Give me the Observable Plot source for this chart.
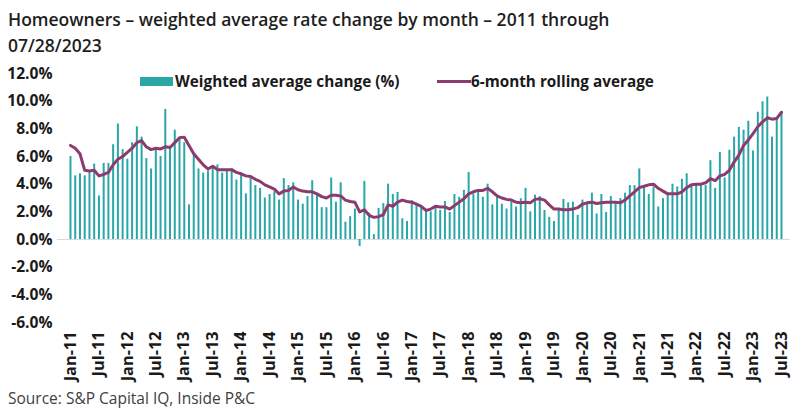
<!DOCTYPE html>
<html>
<head>
<meta charset="utf-8">
<script src="https://cdn.jsdelivr.net/npm/d3@7"></script>
<script src="https://cdn.jsdelivr.net/npm/@observablehq/plot@0.6"></script>
<style>
  html, body { margin: 0; padding: 0; background: #fff; }
  body { width: 800px; height: 411px; position: relative; overflow: hidden; font-family: "Open Sans", sans-serif; }
  #title { position: absolute; left: 8px; top: 6px; font-size: 17.5px; font-weight: 600; line-height: 26px; color: #1e1e1e; }
  #chart { position: absolute; left: 0; top: 60px; }
  #source { position: absolute; left: 8px; top: 387px; font-size: 15.5px; color: #404040; }
  .leg { position: absolute; font-size: 15.3px; font-weight: 700; color: #1a1a1a; line-height: 18px; }
  .sw { position: absolute; }
</style>
</head>
<body>
<div id="title">Homeowners – weighted average rate change by month – 2011 through<br>07/28/2023</div>
<div id="chart"></div>
<div class="sw" style="left:140px;top:77px;width:33px;height:9px;background:#2aa6a6"></div>
<div class="leg" style="left:175px;top:72px">Weighted average change (%)</div>
<div class="sw" style="left:437px;top:80px;width:34px;height:3px;background:#8c3b6e"></div>
<div class="leg" style="left:471px;top:72px">6-month rolling average</div>
<div id="source">Source: S&amp;P Capital IQ, Inside P&amp;C</div>
<script>
// Monthly weighted average rate change (%), Jan-2011 .. Jul-2023
const weightedChange = [
  6.0, 4.6, 4.75, 4.6, 4.9, 5.45, 3.15, 5.5, 5.5, 6.85, 8.35, 6.5,
  5.8, 7.0, 8.15, 7.4, 5.85, 5.1, 6.6, 6.0, 9.4, 6.6, 7.9, 7.3,
  7.0, 2.5, 6.1, 5.1, 4.8, 4.95, 5.3, 5.4, 4.8, 5.0, 5.1, 4.3,
  4.8, 3.3, 4.4, 3.9, 3.7, 3.0, 3.25, 3.45, 2.85, 4.4, 3.9, 4.1,
  2.85, 2.55, 3.1, 4.25, 3.2, 2.3, 2.3, 4.45, 2.7, 4.1, 1.25, 1.65,
  2.2, -0.5, 4.2, 1.9, 0.35, 2.25, 2.6, 4.0, 3.25, 3.4, 1.5, 1.3,
  2.8, 2.6, 2.35, 2.1, 2.0, 2.35, 2.1, 2.75, 1.95, 3.25, 3.05, 3.55,
  4.85, 3.3, 3.55, 3.05, 4.0, 2.5, 3.2, 2.55, 2.2, 2.7, 2.35, 2.95,
  3.7, 2.0, 3.2, 3.1, 2.1, 1.6, 1.3, 2.25, 2.9, 2.65, 2.7, 1.75,
  2.85, 2.7, 3.35, 1.85, 3.25, 1.95, 3.1, 2.6, 2.95, 3.35, 3.9, 3.9,
  5.1, 3.85, 3.25, 3.8, 2.35, 2.95, 3.25, 4.0, 3.8, 4.35, 4.75, 3.9,
  4.0, 3.95, 3.9, 5.7, 3.7, 6.3, 4.45, 6.45, 7.4, 8.1, 7.9, 8.55,
  6.4, 9.2, 9.95, 10.3, 7.4, 8.8, 9.2
];
// 6-month rolling average (%)
const rollingAverage = [
  6.8, 6.6, 6.2, 5.0, 4.95, 5.0, 4.6, 4.7, 4.85, 5.4, 5.8, 6.0,
  6.3, 6.6, 7.0, 7.15, 6.7, 6.5, 6.6, 6.55, 6.7, 6.65, 7.0, 7.35,
  7.4, 6.8, 6.2, 5.8, 5.4, 5.1, 5.3, 5.05, 5.05, 5.05, 5.05, 4.85,
  4.75, 4.6, 4.55, 4.35, 4.2, 3.95, 3.8, 3.65, 3.3, 3.5, 3.55, 3.8,
  3.6, 3.5, 3.45, 3.45, 3.3, 3.1, 3.0, 3.2, 3.2, 3.15, 2.85, 2.75,
  2.7, 2.0, 2.15, 1.75, 1.6, 1.65, 1.8, 2.5, 2.4, 2.7, 2.85, 2.75,
  2.7, 2.55, 2.4, 2.1, 2.2, 2.4, 2.35, 2.35, 2.2, 2.45, 2.7, 2.95,
  3.3, 3.45, 3.55, 3.55, 3.7, 3.45, 3.15, 3.0, 2.9, 2.85, 2.7, 2.65,
  2.7, 2.65, 2.9, 2.95, 2.85, 2.5, 2.2, 2.2, 2.15, 2.15, 2.2, 2.3,
  2.55, 2.65, 2.7, 2.6, 2.65, 2.7, 2.7, 2.7, 2.65, 2.85, 3.15, 3.45,
  3.75, 3.85, 3.95, 4.0, 3.7, 3.5, 3.3, 3.3, 3.3, 3.45, 3.75, 3.95,
  4.0, 4.0, 4.1, 4.4, 4.25, 4.6, 4.7, 5.0, 5.6, 6.1, 6.8, 7.2,
  7.65, 8.15, 8.5, 8.8, 8.7, 8.75, 9.2
];
const tickLabels = [
  "Jan-11","Jul-11","Jan-12","Jul-12","Jan-13","Jul-13","Jan-14","Jul-14",
  "Jan-15","Jul-15","Jan-16","Jul-16","Jan-17","Jul-17","Jan-18","Jul-18",
  "Jan-19","Jul-19","Jan-20","Jul-20","Jan-21","Jul-21","Jan-22","Jul-22",
  "Jan-23","Jul-23"
];
const yTicks = [-6, -4, -2, 0, 2, 4, 6, 8, 10, 12];

const data = weightedChange.map((v, i) => ({i, v, avg: rollingAverage[i]}));
const tickIdx = tickLabels.map((_, k) => k * 6);

const chart = Plot.plot({
  width: 800,
  height: 328,
  marginLeft: 57,
  marginRight: 10,
  marginTop: 13,
  marginBottom: 66,
  style: {fontFamily: "Open Sans, sans-serif", fontSize: "15.6px", fontWeight: "bold", color: "#1a1a1a", background: "transparent"},
  x: {type: "linear", domain: [-2.74, 151.9]},
  y: {domain: [-6, 12]},
  marks: [
    Plot.ruleY([0], {stroke: "#d9d9d9", strokeWidth: 1}),
    Plot.ruleX(data, {x: "i", y1: 0, y2: "v", stroke: "#2aa6a6", strokeWidth: 2}),
    Plot.line(data, {x: "i", y: "avg", stroke: "#8c3b6e", strokeWidth: 3, strokeLinejoin: "round", strokeLinecap: "round"}),
    Plot.axisY({ticks: yTicks, tickSize: 0, tickPadding: 5, tickFormat: d => d.toFixed(1) + "%", label: null}),
    Plot.axisX({ticks: tickIdx, tickSize: 0, tickPadding: 9, tickRotate: -90, fontSize: 16.3, tickFormat: i => tickLabels[Math.round(i / 6)], label: null})
  ]
});
document.getElementById("chart").appendChild(chart);
</script>
</body>
</html>
